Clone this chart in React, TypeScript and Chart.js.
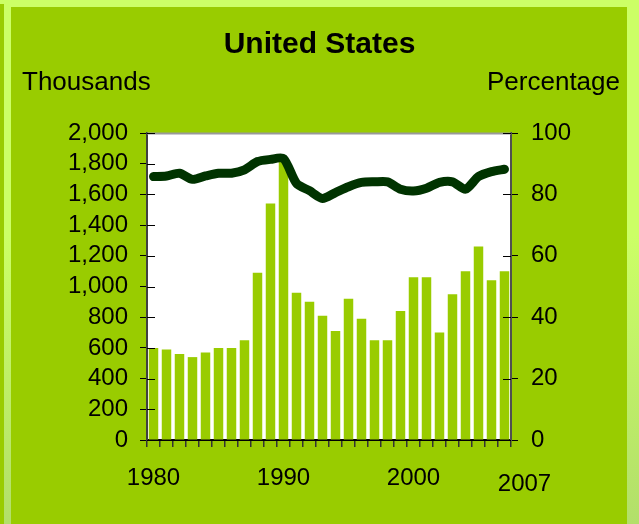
import React, { useEffect, useRef } from 'react';
import { Chart, registerables } from 'chart.js';

Chart.register(...registerables);

const years = ['1980', '1981', '1982', '1983', '1984', '1985', '1986', '1987', '1988', '1989', '1990', '1991', '1992', '1993', '1994', '1995', '1996', '1997', '1998', '1999', '2000', '2001', '2002', '2003', '2004', '2005', '2006', '2007'];
const thousands = [600, 590, 560, 540, 570, 600, 600, 650, 1090, 1540, 1820, 960, 900, 810, 710, 920, 790, 650, 650, 840, 1060, 1060, 700, 950, 1100, 1260, 1040, 1100];
const percentage = [85.8, 86, 86.9, 84.9, 86, 86.9, 86.9, 88, 90.7, 91.4, 91.7, 83.6, 81.2, 78.7, 80.6, 82.5, 83.9, 84.1, 84.1, 81.7, 81.1, 82, 83.9, 84.1, 81.7, 85.8, 87.4, 88.2];
const shownYearLabels = ['1980', '1990', '2000'];
const lastYearLabel = '2007';
const chartTitle = 'United States';
const leftAxisTitle = 'Thousands';
const rightAxisTitle = 'Percentage';

const FONT = '"Liberation Sans", Arial, Helvetica, sans-serif';

const decorPlugin = {
  id: 'decor',
  beforeDraw(chart: any) {
    const { ctx, chartArea } = chart;
    ctx.save();
    ctx.fillStyle = '#ffffff';
    ctx.fillRect(chartArea.left, chartArea.top, chartArea.right - chartArea.left, chartArea.bottom - chartArea.top);
    ctx.restore();
  },
  afterDraw(chart: any) {
    const { ctx, chartArea, scales } = chart;
    ctx.save();
    // top border of plot
    ctx.strokeStyle = '#999999';
    ctx.lineWidth = 2;
    ctx.beginPath();
    ctx.moveTo(chartArea.left, chartArea.top + 0.5);
    ctx.lineTo(chartArea.right, chartArea.top + 0.5);
    ctx.stroke();
    // inner ticks on both y axes
    ctx.strokeStyle = '#000000';
    ctx.lineWidth = 1;
    const yl = scales.y;
    yl.ticks.forEach((t: any) => {
      const py = Math.round(yl.getPixelForValue(t.value)) + 0.5;
      ctx.beginPath();
      ctx.moveTo(chartArea.left, py);
      ctx.lineTo(chartArea.left + 8, py);
      ctx.stroke();
    });
    const yr = scales.y1;
    yr.ticks.forEach((t: any) => {
      const py = Math.round(yr.getPixelForValue(t.value)) + 0.5;
      ctx.beginPath();
      ctx.moveTo(chartArea.right - 8, py);
      ctx.lineTo(chartArea.right, py);
      ctx.stroke();
    });
    // texts
    ctx.fillStyle = '#000000';
    ctx.textBaseline = 'middle';
    ctx.font = `bold 30px ${FONT}`;
    ctx.textAlign = 'center';
    ctx.fillText(chartTitle, chart.width / 2, 45);
    ctx.font = `26px ${FONT}`;
    ctx.textAlign = 'left';
    ctx.fillText(leftAxisTitle, 22, 83);
    ctx.textAlign = 'right';
    ctx.fillText(rightAxisTitle, 620, 83);
    // last year label, set lower and to the right
    const xs = scales.x;
    ctx.font = `24px ${FONT}`;
    ctx.textAlign = 'center';
    ctx.fillText(lastYearLabel, xs.getPixelForValue(years.length - 1) + 20, chartArea.bottom + 44);
    ctx.restore();
  },
};

export default function App() {
  const canvasRef = useRef<HTMLCanvasElement | null>(null);

  useEffect(() => {
    if (!canvasRef.current) return;
    const chart = new Chart(canvasRef.current, {
      type: 'bar',
      data: {
        labels: years,
        datasets: [
          {
            type: 'line',
            label: rightAxisTitle,
            data: percentage,
            yAxisID: 'y1',
            borderColor: '#003300',
            borderWidth: 9,
            pointRadius: 0,
            tension: 0.25,
            borderCapStyle: 'round',
            borderJoinStyle: 'round',
            order: 0,
          } as any,
          {
            type: 'bar',
            label: leftAxisTitle,
            data: thousands,
            yAxisID: 'y',
            backgroundColor: '#99CC00',
            barPercentage: 0.73,
            categoryPercentage: 1,
            order: 1,
          },
        ],
      },
      options: {
        responsive: false,
        animation: false,
        layout: { padding: { top: 133, left: 0, right: 0, bottom: 0 } },
        plugins: { legend: { display: false }, tooltip: { enabled: false }, title: { display: false } },
        scales: {
          x: {
            offset: true,
            grid: { offset: true, drawOnChartArea: false, tickLength: 7, color: '#333333', lineWidth: 1.5 },
            border: { color: '#000000', width: 2 },
            ticks: {
              autoSkip: false,
              maxRotation: 0,
              minRotation: 0,
              padding: 17,
              color: '#000000',
              font: { family: FONT, size: 24 },
              callback: (_v: any, i: number) => (shownYearLabels.includes(years[i]) ? years[i] : ''),
            },
            afterFit: (s: any) => { s.height = 84; },
          },
          y: {
            position: 'left',
            min: 0,
            max: 2000,
            grid: { drawOnChartArea: false, tickLength: 7, color: '#000000', lineWidth: 1 },
            border: { color: '#404040', width: 2 },
            ticks: {
              autoSkip: false,
              stepSize: 200,
              padding: 12,
              color: '#000000',
              font: { family: FONT, size: 24 },
              callback: (v: any) => Number(v).toLocaleString('en-US'),
            },
            afterFit: (s: any) => { s.width = 147; },
          },
          y1: {
            position: 'right',
            min: 0,
            max: 100,
            grid: { drawOnChartArea: false, tickLength: 7, color: '#000000', lineWidth: 1 },
            border: { color: '#505050', width: 2 },
            ticks: {
              autoSkip: false,
              stepSize: 20,
              padding: 13,
              color: '#000000',
              font: { family: FONT, size: 24 },
            },
            afterFit: (s: any) => { s.width = 128; },
          },
        },
      } as any,
      plugins: [decorPlugin],
    });
    return () => chart.destroy();
  }, []);

  return (
    <div style={{ position: 'absolute', left: 0, top: 0, width: 639, height: 524, overflow: 'hidden', background: 'linear-gradient(#CCFF66 0%, #CCFF66 45%, #B2DF6A 100%)' }}>
      <div style={{ position: 'absolute', left: 0, top: 4, width: 4, height: 520, background: '#99CC00' }} />
      <div style={{ position: 'absolute', left: 11, top: 7, width: 616, height: 517, background: '#99CC00' }} />
      <canvas ref={canvasRef} width={639} height={524} style={{ position: 'absolute', left: 0, top: 0, width: 639, height: 524 }} />
    </div>
  );
}
